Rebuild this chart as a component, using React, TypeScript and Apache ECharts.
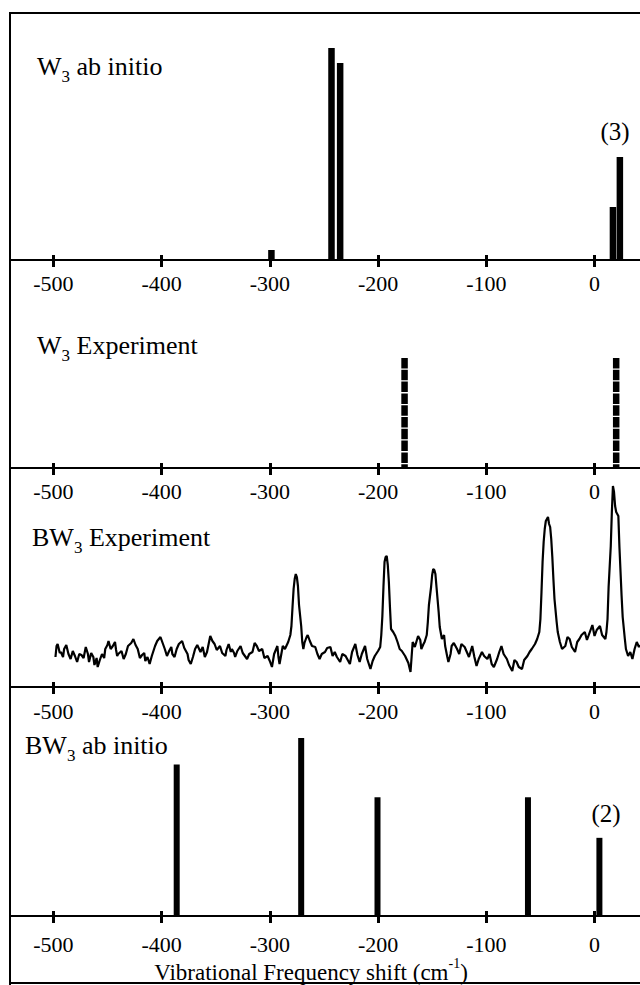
import React, { useEffect, useRef } from 'react';
import * as echarts from 'echarts';

const SERIF = "'Liberation Serif', 'Times New Roman', 'DejaVu Serif', serif";
const xMin = -540;
const xMax = 42;
const tickValues = [-500, -400, -300, -200, -100, 0];

// Panel 1: W3 ab initio (stick spectrum)
const w3AbInitioX = [-298.5, -243, -235, 17, 23.4];
const w3AbInitioY = [10, 212, 197, 53, 103];

// Panel 2: W3 experiment (dashed sticks)
const w3ExpX = [-175.5, 20];
const w3ExpY = [110, 110];

// Panel 3: BW3 experiment (measured spectrum) as [shift, intensity]
const bw3ExpPoints: number[][] = [
  [-498, 30], [-497, 41], [-496, 43], [-494, 34], [-493, 35], [-491, 30], [-490, 38], [-488, 42], [-486, 33], [-484, 28],
  [-482, 36], [-480, 31], [-478, 25], [-476, 33], [-474, 32], [-472, 29], [-470, 40], [-468, 33], [-467, 25], [-465, 34],
  [-463, 30], [-462, 22], [-461, 25], [-460, 29], [-459, 20], [-457, 27], [-455, 33], [-453, 29], [-452, 38], [-450, 42],
  [-449, 46], [-447, 38], [-445, 41], [-443, 45], [-442, 37], [-441, 31], [-440, 33], [-437, 36], [-435, 28], [-433, 33],
  [-431, 41], [-428, 44], [-426, 48], [-424, 42], [-422, 38], [-420, 29], [-418, 32], [-416, 34], [-415, 26], [-413, 30],
  [-411, 23], [-409, 31], [-406, 41], [-404, 46], [-401, 50], [-399, 44], [-397, 38], [-395, 31], [-393, 36], [-391, 40],
  [-390, 33], [-388, 30], [-386, 38], [-384, 43], [-381, 46], [-379, 39], [-376, 33], [-375, 27], [-373, 23], [-371, 30],
  [-369, 38], [-367, 42], [-364, 35], [-362, 40], [-360, 30], [-358, 35], [-355, 51], [-353, 46], [-351, 43], [-349, 37],
  [-346, 41], [-344, 34], [-341, 31], [-340, 37], [-338, 43], [-336, 35], [-335, 38], [-333, 34], [-332, 30], [-330, 36],
  [-327, 41], [-325, 34], [-321, 28], [-319, 33], [-316, 35], [-314, 44], [-312, 41], [-310, 36], [-307, 38], [-305, 29],
  [-302, 31], [-300, 26], [-298, 20], [-296, 33], [-293, 41], [-292, 30], [-291, 23], [-289, 35], [-288, 41], [-286, 38],
  [-283, 45], [-281, 52], [-280, 61], [-279, 80], [-278, 98], [-277, 108], [-276, 113], [-275, 110], [-274, 101], [-273, 82],
  [-271, 61], [-270, 45], [-269, 38], [-268, 44], [-266, 50], [-265, 52], [-263, 46], [-261, 41], [-258, 40], [-256, 33],
  [-254, 28], [-252, 33], [-249, 35], [-247, 39], [-244, 40], [-242, 31], [-240, 35], [-238, 30], [-235, 25], [-233, 33],
  [-230, 31], [-228, 27], [-226, 23], [-224, 35], [-221, 43], [-219, 32], [-217, 25], [-215, 33], [-212, 41], [-210, 28],
  [-207, 18], [-205, 26], [-203, 31], [-200, 36], [-198, 40], [-197, 52], [-196, 71], [-195, 100], [-194, 125], [-193, 130],
  [-192, 131], [-191, 122], [-190, 105], [-189, 80], [-188, 58], [-186, 55], [-184, 51], [-182, 45], [-180, 38], [-178, 36],
  [-175, 31], [-172, 24], [-170, 15], [-169, 30], [-168, 45], [-166, 40], [-163, 51], [-161, 47], [-160, 38], [-158, 43],
  [-157, 45], [-155, 52], [-154, 65], [-153, 82], [-151, 100], [-150, 112], [-149, 118], [-148, 117], [-147, 113], [-146, 100],
  [-144, 75], [-143, 60], [-141, 48], [-139, 52], [-138, 41], [-136, 30], [-135, 25], [-133, 33], [-132, 41], [-130, 44],
  [-127, 38], [-125, 33], [-123, 43], [-120, 40], [-118, 35], [-116, 30], [-113, 41], [-111, 30], [-109, 21], [-107, 28],
  [-104, 35], [-102, 31], [-99, 28], [-97, 33], [-95, 23], [-93, 20], [-90, 28], [-88, 35], [-86, 41], [-84, 33],
  [-81, 28], [-79, 22], [-76, 16], [-74, 27], [-72, 25], [-70, 20], [-67, 18], [-65, 27], [-62, 31], [-60, 35],
  [-58, 38], [-55, 43], [-53, 48], [-51, 55], [-50, 68], [-49, 95], [-48, 125], [-47, 145], [-46, 158], [-45, 166],
  [-43, 170], [-42, 163], [-41, 160], [-40, 148], [-39, 130], [-38, 108], [-37, 88], [-35, 65], [-34, 55], [-32, 45],
  [-30, 38], [-27, 41], [-25, 50], [-23, 48], [-21, 40], [-18, 35], [-16, 45], [-14, 48], [-12, 52], [-9, 55],
  [-7, 47], [-4, 56], [-2, 62], [0, 51], [2, 57], [5, 61], [7, 52], [10, 48], [11, 55], [12, 68],
  [13, 100], [15, 141], [16, 175], [17, 201], [18, 195], [19, 181], [20, 175], [22, 171], [23, 140], [25, 91],
  [26, 70], [28, 48], [29, 38], [31, 31], [33, 35], [35, 28], [37, 38], [39, 45], [41, 40], [42, 42],
];

// Panel 4: BW3 ab initio (stick spectrum)
const bw3AbInitioX = [-386, -271, -200.5, -61.5, 4.5];
const bw3AbInitioY = [153, 180, 120, 120, 79];

const pairs = (xs: number[], ys: number[]) => xs.map((x, i) => [x, ys[i]]);

function mainAxis(gridIndex: number, labelMargin: number, extra: any = {}) {
  return {
    type: 'value',
    gridIndex,
    min: xMin,
    max: xMax,
    position: 'bottom',
    axisLine: { show: true, onZero: false, lineStyle: { color: '#000', width: 2 } },
    axisTick: {
      show: true,
      inside: false,
      length: 7,
      customValues: tickValues,
      lineStyle: { color: '#000', width: 3 },
    },
    axisLabel: {
      show: true,
      customValues: tickValues,
      margin: labelMargin,
      color: '#000',
      fontSize: 22,
      fontFamily: SERIF,
    },
    splitLine: { show: false },
    ...extra,
  };
}

function innerAxis(gridIndex: number) {
  return {
    type: 'value',
    gridIndex,
    min: xMin,
    max: xMax,
    position: 'bottom',
    axisLine: { show: false },
    axisTick: {
      show: true,
      inside: true,
      length: 5,
      customValues: tickValues,
      lineStyle: { color: '#000', width: 3 },
    },
    axisLabel: { show: false },
    splitLine: { show: false },
  };
}

function hiddenY(gridIndex: number, max: number) {
  return { type: 'value', gridIndex, min: 0, max, show: false, splitLine: { show: false } };
}

function titleText(x: number, y: number, pre: string, sub: string, post: string) {
  return {
    type: 'text',
    x,
    y,
    z: 10,
    style: {
      text: `{a|${pre}}{s|${sub}}{a|${post}}`,
      fill: '#000',
      fontFamily: SERIF,
      fontSize: 26,
      align: 'left',
      verticalAlign: 'middle',
      rich: {
        a: { fontSize: 26, fontFamily: SERIF, lineHeight: 31, fill: '#000', verticalAlign: 'top' },
        s: { fontSize: 17, fontFamily: SERIF, lineHeight: 17, fill: '#000', verticalAlign: 'bottom' },
      },
    },
  };
}

function plainText(x: number, y: number, text: string) {
  return {
    type: 'text',
    x,
    y,
    z: 10,
    style: {
      text,
      fill: '#000',
      fontSize: 25,
      fontFamily: SERIF,
      align: 'center',
      verticalAlign: 'middle',
    },
  };
}

export default function App() {
  const ref = useRef<HTMLDivElement>(null);
  useEffect(() => {
    document.body.style.margin = '0';
    const chart = echarts.init(ref.current!, null, { renderer: 'svg' });
    const option: any = {
      animation: false,
      backgroundColor: '#fff',
      textStyle: { fontFamily: SERIF },
      grid: [
        { left: 10, right: 0, top: 30, height: 230 },
        { left: 10, right: 0, top: 318, height: 150 },
        { left: 10, right: 0, top: 477, height: 210 },
        { left: 10, right: 0, top: 728, height: 190 },
      ],
      xAxis: [
        mainAxis(0, 12),
        innerAxis(0),
        mainAxis(1, 12),
        innerAxis(1),
        mainAxis(2, 13),
        innerAxis(2),
        mainAxis(3, 17, {
          name: '{a|Vibrational Frequency shift (cm}{s|-1}{a|)}',
          nameLocation: 'middle',
          nameGap: 40,
          nameTextStyle: {
            color: '#000',
            fontFamily: SERIF,
            fontSize: 23,
            padding: [0, 28, 0, 0],
            rich: {
              a: { fontSize: 23, fontFamily: SERIF, lineHeight: 28, color: '#000', verticalAlign: 'bottom' },
              s: { fontSize: 14, fontFamily: SERIF, lineHeight: 14, color: '#000', verticalAlign: 'top' },
            },
          },
        }),
        innerAxis(3),
      ],
      yAxis: [hiddenY(0, 230), hiddenY(1, 150), hiddenY(2, 210), hiddenY(3, 190)],
      series: [
        {
          type: 'bar',
          xAxisIndex: 0,
          yAxisIndex: 0,
          barWidth: 6.5,
          itemStyle: { color: '#000' },
          data: pairs(w3AbInitioX, w3AbInitioY),
        },
        {
          type: 'custom',
          xAxisIndex: 2,
          yAxisIndex: 1,
          encode: { x: 0, y: 1 },
          data: pairs(w3ExpX, w3ExpY),
          renderItem: (params: any, api: any) => {
            const top = api.coord([api.value(0), api.value(1)]);
            const base = api.coord([api.value(0), 0]);
            return {
              type: 'line',
              shape: { x1: top[0], y1: top[1], x2: base[0], y2: base[1] },
              style: { stroke: '#000', lineWidth: 6.5, lineDash: [10.5, 1.3], fill: null },
            };
          },
        },
        {
          type: 'line',
          xAxisIndex: 4,
          yAxisIndex: 2,
          showSymbol: false,
          symbol: 'none',
          lineStyle: { color: '#000', width: 2.2 },
          data: bw3ExpPoints,
        },
        {
          type: 'bar',
          xAxisIndex: 6,
          yAxisIndex: 3,
          barWidth: 6,
          itemStyle: { color: '#000' },
          data: pairs(bw3AbInitioX, bw3AbInitioY),
        },
      ],
      graphic: [
        { type: 'line', shape: { x1: 10, y1: 13, x2: 640, y2: 13 }, style: { stroke: '#000', lineWidth: 2 } },
        { type: 'line', shape: { x1: 10, y1: 12, x2: 10, y2: 985 }, style: { stroke: '#000', lineWidth: 2 } },
        { type: 'line', shape: { x1: 10, y1: 983, x2: 640, y2: 983 }, style: { stroke: '#000', lineWidth: 2 } },
        titleText(37, 69, 'W', '3', ' ab initio'),
        titleText(37, 348, 'W', '3', ' Experiment'),
        titleText(32, 540, 'BW', '3', ' Experiment'),
        titleText(25, 748, 'BW', '3', ' ab initio'),
        plainText(615, 131, '(3)'),
        plainText(606, 813, '(2)'),
      ],
    };
    chart.setOption(option);
    return () => chart.dispose();
  }, []);
  return <div ref={ref} style={{ width: 640, height: 985 }} />;
}
